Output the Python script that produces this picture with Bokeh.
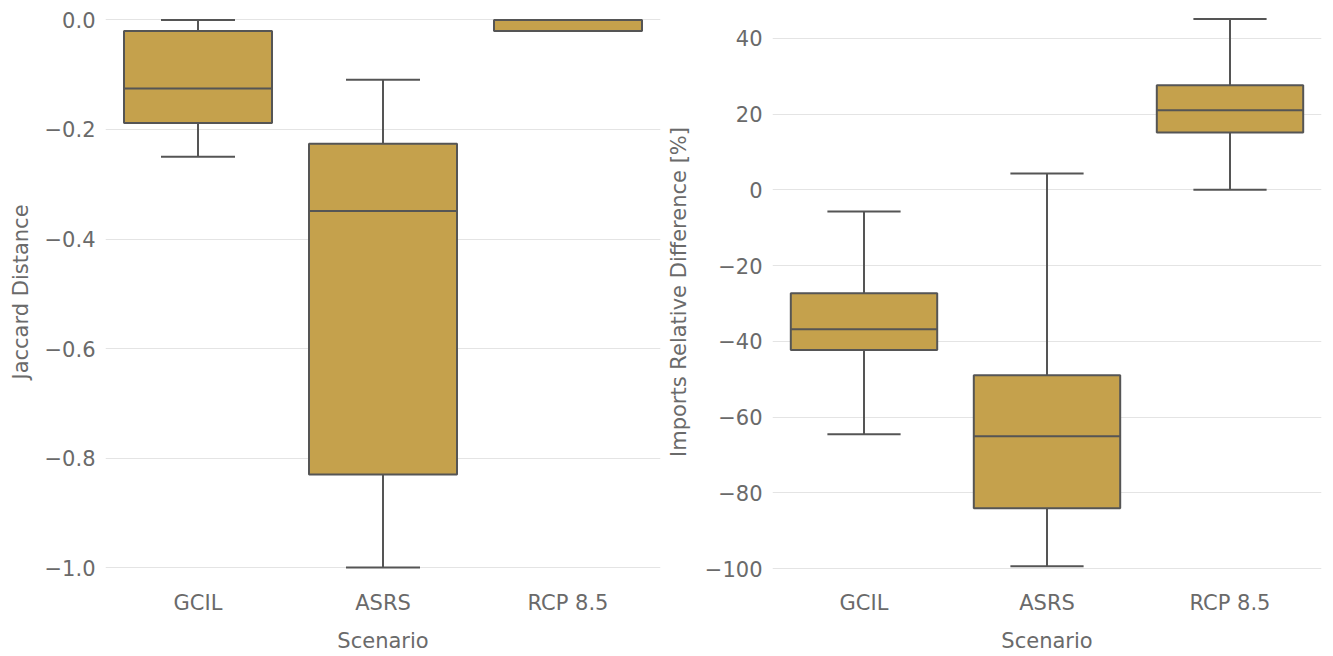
from bokeh.plotting import figure
from bokeh.layouts import row
from bokeh.models import ColumnDataSource, FixedTicker
from bokeh.embed import file_html
from bokeh.resources import INLINE

categories = ["GCIL", "ASRS", "RCP 8.5"]

# Jaccard distance box statistics
jac_lower = [-0.25, -1.0, -0.02]
jac_q1 = [-0.188, -0.83, -0.02]
jac_median = [-0.125, -0.349, 0.0]
jac_q3 = [-0.02, -0.226, 0.0]
jac_upper = [0.0, -0.109, 0.0]
jac_ticks = [-1.0, -0.8, -0.6, -0.4, -0.2, 0.0]

# Imports relative difference [%] box statistics
imp_lower = [-64.5, -99.3, 0.0]
imp_q1 = [-42.3, -84.0, 15.1]
imp_median = [-36.8, -65.0, 21.0]
imp_q3 = [-27.3, -48.9, 27.6]
imp_upper = [-5.7, 4.3, 45.1]
imp_ticks = [-100, -80, -60, -40, -20, 0, 20, 40]

FILL = "#c5a14c"
EDGE = "#555555"
TEXT = "#6a6a6a"
GRID = "#e4e4e4"
FONT = "DejaVu Sans"


def fmt(v, dec):
    s = f"{v:.{dec}f}"
    return s.replace("-", "\u2212")


def make(lower, q1, med, q3, upper, ticks, dec, ylabel, yr, width, bl, br, lab_so):
    pos = list(range(len(categories)))
    src = ColumnDataSource(dict(
        x=pos,
        x_l=[p - 0.4 for p in pos], x_r=[p + 0.4 for p in pos],
        c_l=[p - 0.2 for p in pos], c_r=[p + 0.2 for p in pos],
        lower=lower, q1=q1, med=med, q3=q3, upper=upper,
    ))
    p = figure(width=width, height=656, x_range=(-0.5, 2.5), y_range=yr,
               output_backend="svg", toolbar_location=None,
               min_border_left=bl, min_border_right=br,
               min_border_top=0, min_border_bottom=73)
    p.outline_line_color = None
    p.background_fill_color = "white"
    p.border_fill_color = "white"

    # whiskers
    p.segment(x0="x", y0="q3", x1="x", y1="upper", source=src, line_color=EDGE, line_width=2)
    p.segment(x0="x", y0="q1", x1="x", y1="lower", source=src, line_color=EDGE, line_width=2)
    # caps
    p.segment(x0="c_l", y0="upper", x1="c_r", y1="upper", source=src, line_color=EDGE, line_width=2)
    p.segment(x0="c_l", y0="lower", x1="c_r", y1="lower", source=src, line_color=EDGE, line_width=2)
    # boxes
    p.vbar(x="x", width=0.8, bottom="q1", top="q3", source=src,
           fill_color=FILL, line_color=EDGE, line_width=2)
    # medians
    p.segment(x0="x_l", y0="med", x1="x_r", y1="med", source=src, line_color=EDGE, line_width=2)

    p.xgrid.grid_line_color = None
    p.ygrid.grid_line_color = GRID
    p.ygrid.grid_line_width = 1

    p.xaxis.ticker = FixedTicker(ticks=pos)
    p.xaxis.major_label_overrides = {i: c for i, c in zip(pos, categories)}
    p.yaxis.ticker = FixedTicker(ticks=ticks)
    p.yaxis.major_label_overrides = {t: fmt(t, dec) for t in ticks}

    for ax in (p.xaxis[0], p.yaxis[0]):
        ax.axis_line_color = None
        ax.major_tick_line_color = None
        ax.minor_tick_line_color = None
        ax.major_tick_out = 0
        ax.major_tick_in = 0
        ax.minor_tick_out = 0
        ax.minor_tick_in = 0
        ax.major_label_text_font = FONT
        ax.major_label_text_font_size = "21px"
        ax.major_label_text_color = TEXT
        ax.axis_label_text_font = FONT
        ax.axis_label_text_font_size = "21px"
        ax.axis_label_text_font_style = "normal"
        ax.axis_label_text_color = TEXT
    p.xaxis.axis_label = "Scenario"
    p.yaxis.axis_label = ylabel
    p.xaxis.major_label_standoff = 7
    p.xaxis.axis_label_standoff = 11
    p.yaxis.major_label_standoff = 10
    p.yaxis.axis_label_standoff = lab_so
    return p


p1 = make(jac_lower, jac_q1, jac_median, jac_q3, jac_upper, jac_ticks, 1,
          "Jaccard Distance", (-1.0292, 0.0356), 663, 105, 3, 9)
p2 = make(imp_lower, imp_q1, imp_median, imp_q3, imp_upper, imp_ticks, 0,
          "Imports Relative Difference [%]", (-103.88, 49.95), 667, 106, 9, 11)

layout = row(p1, p2)
open("out.html", "w").write(file_html(layout, INLINE))
